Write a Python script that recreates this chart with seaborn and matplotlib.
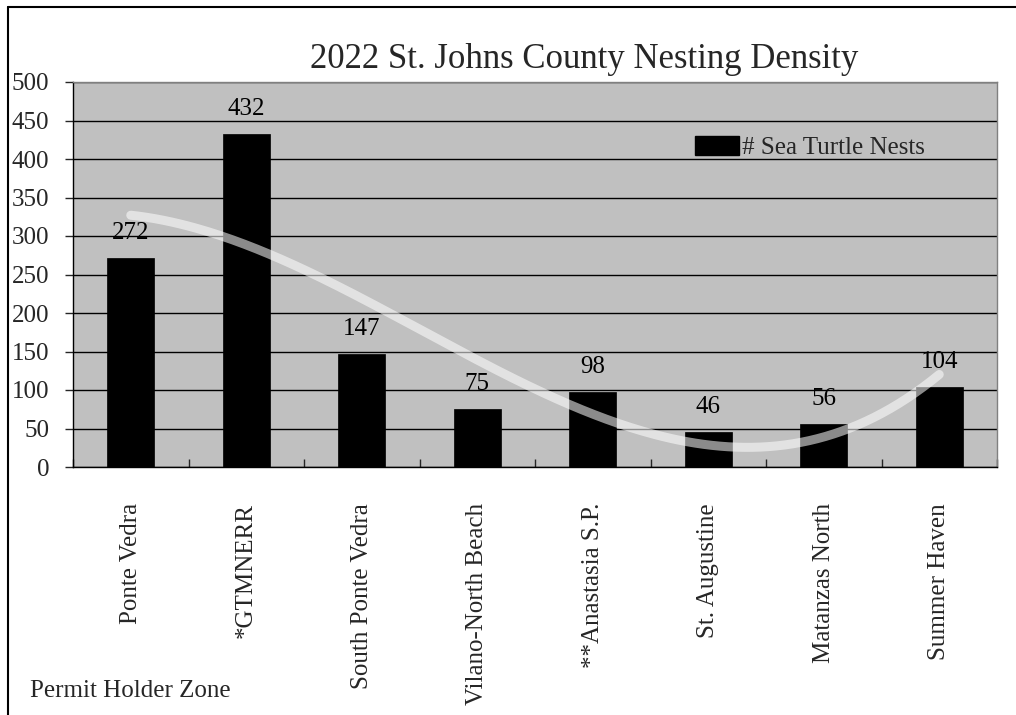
import numpy as np
import pandas as pd
import matplotlib
matplotlib.use("Agg")
import matplotlib.pyplot as plt
from matplotlib.lines import Line2D
from matplotlib.patches import Patch
import seaborn as sns

# Nest counts by permit holder zone
zones = ["Ponte Vedra", "*GTMNERR", "South Ponte Vedra", "Vilano-North Beach",
         "**Anastasia S.P.", "St. Augustine", "Matanzas North", "Summer Haven"]
nests = [272, 432, 147, 75, 98, 46, 56, 104]
y_ticks = [0, 50, 100, 150, 200, 250, 300, 350, 400, 450, 500]

title = "2022 St. Johns County Nesting Density"
series_name = "# Sea Turtle Nests"
x_caption = "Permit Holder Zone"

sns.set_style("white")
plt.rcParams["font.family"] = ["Liberation Serif", "DejaVu Serif"]

df = pd.DataFrame({"zone": zones, "nests": nests})

fig = plt.figure(figsize=(10.16, 7.15), dpi=100)
ax = fig.add_axes([73 / 1016, 1 - 467 / 715, (997 - 73) / 1016, (467 - 82) / 715])
ax.set_facecolor("#c0c0c0")

sns.barplot(data=df, x="zone", y="nests", color="black", saturation=1,
            width=0.41, ax=ax, zorder=3, edgecolor="black", linewidth=0.5)

# labels on top of each bar
ax.bar_label(ax.containers[0], labels=[str(v) for v in nests],
             padding=10, fontsize=18, color="black")

# third-order polynomial trend of the counts
xi = np.arange(len(nests))
coef = np.polyfit(xi, nests, 3)
xs = np.linspace(0, len(nests) - 1, 200)
ax.plot(xs, np.polyval(coef, xs), color="white", alpha=0.55, lw=6.5,
        solid_capstyle="round", zorder=4)

ax.set_ylim(0, 500)
ax.set_xlim(-0.5, len(zones) - 0.5)
ax.set_yticks(y_ticks)
ax.set_yticklabels([str(t) for t in y_ticks], fontsize=18)
ax.yaxis.grid(True, color="black", lw=1.0, zorder=1)
ax.set_axisbelow(True)
ax.set_xlabel("")
ax.set_ylabel("")

ax.tick_params(axis="y", direction="out", length=6, width=1, pad=11, left=True)
ax.tick_params(axis="x", which="major", length=0, pad=26, labelsize=18,
               labelrotation=90)
ax.set_xticks(np.arange(-0.5, len(zones), 1.0), minor=True)
ax.tick_params(axis="x", which="minor", direction="in", length=6, width=1,
               bottom=True)

for s in ["left", "bottom"]:
    ax.spines[s].set_color("black")
    ax.spines[s].set_linewidth(1.0)
for s in ["top", "right"]:
    ax.spines[s].set_color("#808080")
    ax.spines[s].set_linewidth(1.0)

# legend
handle = Patch(facecolor="black", edgecolor="black")
ax.legend([handle], [series_name], loc="upper left",
          bbox_to_anchor=((695 - 73) / (997 - 73), (467 - 136) / (467 - 82)),
          frameon=False, fontsize=18, handlelength=1.75, handleheight=0.8,
          handletextpad=0.15, borderpad=0, borderaxespad=0)

fig.text(584 / 1016, 1 - 68 / 715, title, ha="center", va="baseline",
         fontsize=25)
fig.text(30 / 1016, 1 - 697 / 715, x_caption, ha="left", va="baseline",
         fontsize=18)

# outer frame
fig.add_artist(Line2D([8 / 1016, 1.0], [1 - 7 / 715, 1 - 7 / 715],
                      transform=fig.transFigure, color="black", lw=1.5))
fig.add_artist(Line2D([8 / 1016, 8 / 1016], [0.0, 1 - 7 / 715],
                      transform=fig.transFigure, color="black", lw=1.5))

fig.savefig("out.png", dpi=100, facecolor="white")
